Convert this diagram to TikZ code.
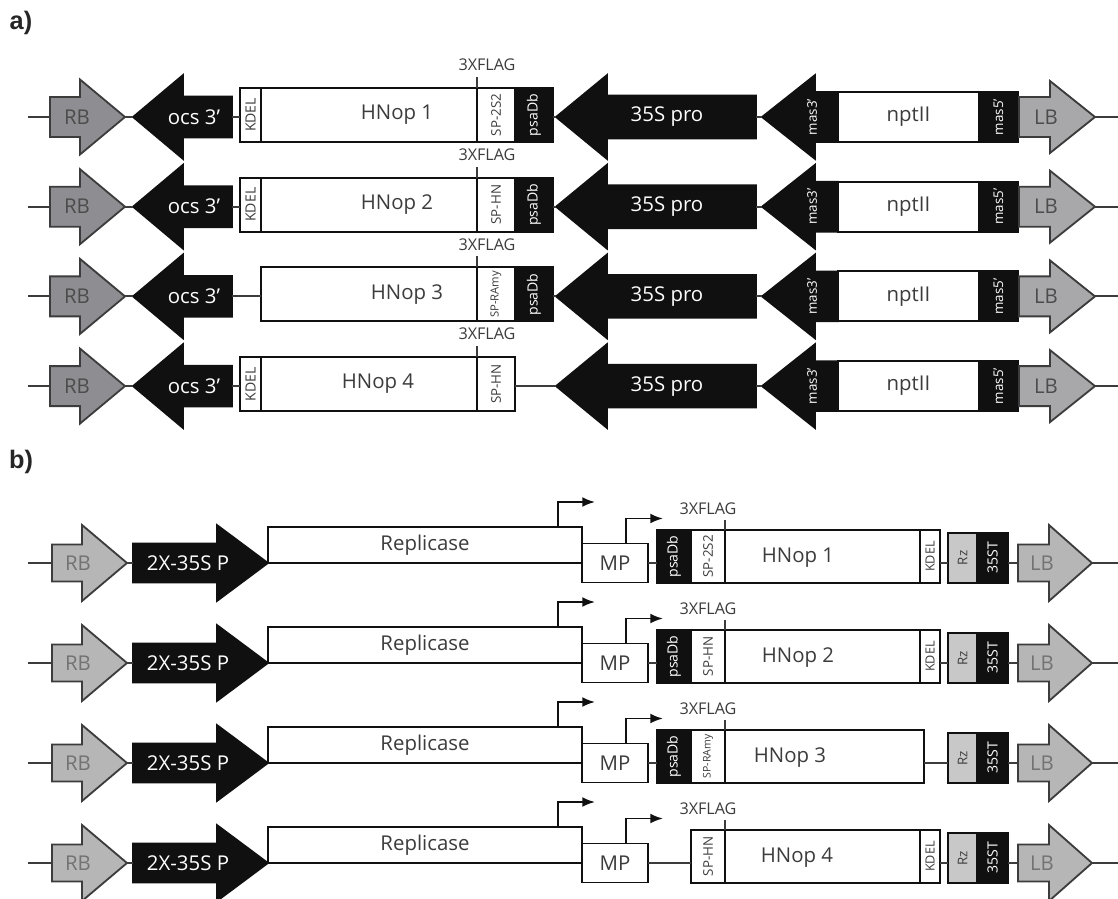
\documentclass[tikz,border=0pt]{standalone}
\usepackage{fontspec}
\setmainfont{Open Sans}
\newfontfamily\panelfont{Liberation Sans}
\usepackage{graphicx}
\usepackage{tikz}
\usetikzlibrary{arrows.meta}

\definecolor{rbgrayA}{RGB}{142,142,146}
\definecolor{lbgrayA}{RGB}{168,168,170}
\definecolor{rbgrayB}{RGB}{182,182,182}
\definecolor{rzgray}{RGB}{200,200,200}
\definecolor{inkgray}{RGB}{60,60,60}
\definecolor{nearblack}{RGB}{16,16,16}

\newcommand\px{0.025cm}

\tikzset{
  link/.style={line width=1.3pt, draw=inkgray},
  elem/.style={draw=nearblack, line width=1.3pt, inner sep=0pt, outer sep=0pt, fill=white, text=inkgray},
  darkbox/.style={elem, fill=nearblack, text=white},
  greyarrow/.style={draw=inkgray, line width=1.3pt},
  blackarrow/.style={draw=nearblack, fill=nearblack, line width=1.2pt},
  big/.style={font=\fontsize{14.5}{14.5}\selectfont, text=inkgray, inner sep=0pt},
  bigwhite/.style={big, text=white},
  flag/.style={font=\fontsize{11.5}{11.5}\selectfont, text=inkgray, inner sep=0pt},
  promoter/.style={line width=1.3pt, draw=nearblack, -{Latex[length=9pt,width=7pt]}},
}

% sideways label
\newcommand\side[2][9.5]{\rotatebox{90}{\fontsize{#1}{#1}\selectfont #2}}

% gene arrow: [style]{name}{tail x}{head x}{tip x}{shaft half}{head half}{axis y}
\newcommand\genearrow[8][]{%
  \draw[#1] (#3,#8-#6) -- (#4,#8-#6) -- (#4,#8-#7) -- (#5,#8) -- (#4,#8+#7) -- (#4,#8+#6) -- (#3,#8+#6) -- cycle;
  \coordinate (#2-tail) at (#3,#8);
  \coordinate (#2-tip) at (#5,#8);
}

\begin{document}
\begin{tikzpicture}[x=0.025cm, y=-0.025cm]
  \fill[white] (0,0) rectangle (1118,899);
  \useasboundingbox (0,0) rectangle (1118,899);

  \node[font=\panelfont\bfseries\fontsize{18}{18}\selectfont, text=black!85] (pa) at (21,23) {a)};
  \node[font=\panelfont\bfseries\fontsize{18}{18}\selectfont, text=black!85] (pb) at (21,462) {b)};

  % a) binary vectors
  \foreach \i/\sp/\spsize/\hx in {1/SP-2S2/9.5/397, 2/SP-HN/9.5/397, 3/SP-RAmy/8/407, 4/SP-HN/9.5/378}{
    \pgfmathsetmacro\ya{117+89.7*(\i-1)}
    \coordinate (aL\i) at (28,\ya);
    \coordinate (aR\i) at (1118,\ya);
    \genearrow[greyarrow, fill=rbgrayA]{rba\i}{50}{80}{125}{20}{37.5}{\ya}
    \node[big, text=black!70] (rbla\i) at (77,\ya) {RB};
    \genearrow[blackarrow]{ocs\i}{232}{183}{133}{20.5}{42}{\ya}
    \node[bigwhite] (ocsl\i) at (194,\ya) {ocs 3'};
    \node[elem, anchor=north west, minimum width=216*\px, minimum height=54*\px] (hna\i) at (261,\ya-29) {};
    \node[big] (hnla\i) at (\hx,\ya-2) {HNop \i};
    \node[elem, anchor=north west, minimum width=38*\px, minimum height=54*\px] (spa\i) at (hna\i.north east) {\side[\spsize]{\sp}};
    \node[flag] (flga\i) at (487,\ya-52) {3XFLAG};
    \draw[link, line width=0.8pt] (hna\i.north east) -- ++(0,-11);
    \genearrow[blackarrow]{pro\i}{756}{607}{556}{21.5}{42}{\ya}
    \node[bigwhite] (prol\i) at (667,\ya) {35S pro};
    \genearrow[blackarrow]{mas\i}{838}{815}{762}{25}{42}{\ya}
    \node[text=white, inner sep=0pt] (masl\i) at (812,\ya) {\side{mas3'}};
    \node[elem, big, anchor=west, minimum width=141*\px, minimum height=50*\px] (npt\i) at (mas\i-tail) {nptII};
    \node[darkbox, anchor=west, minimum width=39*\px, minimum height=50*\px] (m5a\i) at (npt\i.east) {\side{mas5'}};
    \genearrow[greyarrow, fill=lbgrayA]{lba\i}{1019}{1050}{1095}{20}{36}{\ya}
    \node[big, text=black!70] (lbla\i) at (1046,\ya) {LB};
    \draw[link] (aL\i) -- (rba\i-tail);
    \draw[link] (rba\i-tip) -- (ocs\i-tip);
    \draw[link] (pro\i-tail) -- (mas\i-tip);
    \draw[link] (lba\i-tip) -- (aR\i);
  }
  \foreach \i in {1,2,4}{
    \node[elem, anchor=north east, minimum width=21*\px, minimum height=54*\px] (kda\i) at (hna\i.north west) {\side[10]{KDEL}};
  }
  \foreach \i in {1,2,3}{
    \node[darkbox, anchor=north west, minimum width=38*\px, minimum height=54*\px] (psa\i) at (spa\i.north east) {\side[10]{psaDb}};
  }
  \foreach \i/\lft/\rgt in {1/kda/psa, 2/kda/psa, 3/hna/psa, 4/kda/spa}{
    \draw[link] (ocs\i-tail) -- (ocs\i-tail -| \lft\i.west);
    \draw[link] (pro\i-tip) -- (pro\i-tip -| \rgt\i.east);
  }

  % b) viral vectors
  \foreach \i/\sp/\spsize/\hx/\hw in {1/SP-2S2/9.5/798/195, 2/SP-HN/9.5/798/195, 3/SP-RAmy/7.5/790/199, 4/SP-HN/9.5/797/195}{
    \pgfmathsetmacro\yb{563+100*(\i-1)}
    \coordinate (bL\i) at (28,\yb);
    \coordinate (bR\i) at (1118,\yb);
    \genearrow[greyarrow, fill=rbgrayB]{rbb\i}{52}{82}{127}{18.5}{38}{\yb}
    \node[big, text=black!55] (rblb\i) at (78,\yb) {RB};
    \genearrow[blackarrow]{p2x\i}{133}{217}{268}{19.5}{38}{\yb}
    \node[bigwhite] (p2xl\i) at (188,\yb) {2X-35S P};
    \node[elem, anchor=south west, minimum width=314*\px, minimum height=36*\px] (rep\i) at (p2x\i-tip) {};
    \node[big] (repl\i) at (425,\yb-18) {Replicase};
    \node[elem, big, anchor=west, minimum width=66*\px, minimum height=39*\px] (mp\i) at (rep\i.south east) {MP};
    \draw[promoter] ([xshift=-24*\px]rep\i.north east) |- ++(37,-25);
    \draw[promoter] ([xshift=-22*\px]mp\i.north east) |- ++(37,-25);
    \node[elem, anchor=north west, minimum width=\hw*\px, minimum height=53*\px] (hnb\i) at (725,\yb-33) {};
    \node[big] (hnlb\i) at (\hx,\yb-5) {HNop \i};
    \node[elem, anchor=north east, minimum width=34*\px, minimum height=53*\px] (spb\i) at (hnb\i.north west) {\side[\spsize]{\sp}};
    \node[flag] (flgb\i) at (708,\yb-54) {3XFLAG};
    \draw[link, line width=0.8pt] (hnb\i.north west) -- ++(0,-10);
    \node[elem, fill=rzgray, anchor=north west, minimum width=29*\px, minimum height=50*\px] (rz\i) at (948,\yb-30) {\side{Rz}};
    \node[darkbox, anchor=north west, minimum width=31*\px, minimum height=50*\px] (tt\i) at (rz\i.north east) {\side[10]{35ST}};
    \genearrow[greyarrow, fill=rbgrayB]{lbb\i}{1018}{1049}{1092}{18.5}{38}{\yb}
    \node[big, text=black!55] (lblb\i) at (1042,\yb) {LB};
    \draw[link] (bL\i) -- (rbb\i-tail);
    \draw[link] (rbb\i-tip) -- (p2x\i-tail);
    \draw[link] (lbb\i-tail -| tt\i.east) -- (lbb\i-tail);
    \draw[link] (lbb\i-tip) -- (bR\i);
  }
  \foreach \i in {1,2,4}{
    \node[elem, anchor=north west, minimum width=20*\px, minimum height=53*\px] (kdb\i) at (hnb\i.north east) {\side[9]{KDEL}};
  }
  \foreach \i in {1,2,3}{
    \node[darkbox, anchor=north east, minimum width=34*\px, minimum height=53*\px] (psb\i) at (spb\i.north west) {\side[10]{psaDb}};
  }
  \foreach \i/\lft/\rgt in {1/psb/kdb, 2/psb/kdb, 3/psb/hnb, 4/spb/kdb}{
    \draw[link] (mp\i.east) -- (mp\i.east -| \lft\i.west);
    \draw[link] (mp\i.east -| rz\i.west) -- (mp\i.east -| \rgt\i.east);
  }
\end{tikzpicture}
\end{document}
